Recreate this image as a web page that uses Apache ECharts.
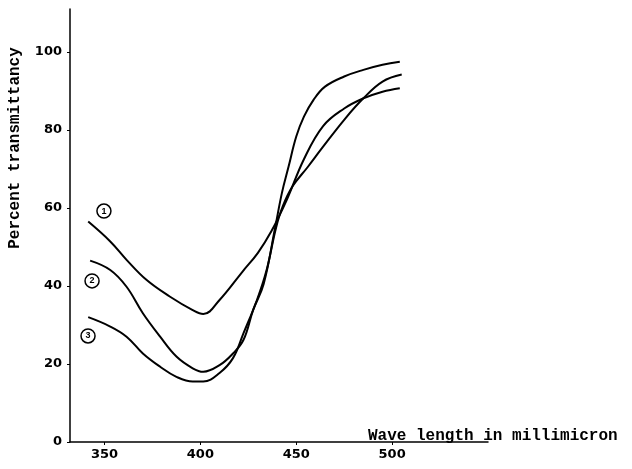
<!DOCTYPE html>
<html>
<head>
<meta charset="utf-8">
<script src="https://cdn.jsdelivr.net/npm/echarts@6/dist/echarts.min.js"></script>
<style>
  html, body { margin: 0; padding: 0; background: #fff; }
  #chart { width: 632px; height: 469px; }
</style>
</head>
<body>
<div id="chart"></div>
<script>
// wave length (millimicron) and percent transmittancy
const wave1 = [341.5, 353, 361.5, 372, 384, 396, 401.5, 410, 422, 430, 437, 445, 454, 464, 475, 485, 495, 504];
const trans1 = [56.5, 51.4, 46.7, 41.5, 37.3, 33.8, 32.8, 36.4, 43.7, 48.5, 54, 62, 72.5, 81, 85.5, 88.1, 89.8, 90.7];

const wave2 = [342.5, 353, 361.5, 370, 379, 387.5, 396, 401.5, 410, 417, 422.5, 427.5, 433, 439, 442.5, 446, 450, 454, 459, 465, 475, 485, 495, 504];
const trans2 = [46.5, 44.1, 39.8, 33, 27, 21.9, 18.9, 18, 19.7, 22.7, 26.2, 33.8, 40.5, 55, 63.8, 70.6, 78.3, 83.4, 87.7, 91.1, 93.7, 95.4, 96.7, 97.5];

const wave3 = [341.5, 353, 361.5, 370, 379, 387.5, 396, 401.5, 410, 417, 422.5, 429.5, 434.5, 439.5, 443, 448, 456, 464, 475, 485, 495, 505];
const trans3 = [32, 29.6, 27, 22.7, 19.3, 16.7, 15.5, 15.5, 17.7, 21.5, 27.9, 36.4, 44, 55, 60.5, 65.5, 70.5, 75.7, 82.6, 88.1, 92.4, 94.2];

// circled curve numbers: [wave, transmittancy]
const markers = [
  { name: "1", coord: [349.7, 59.2] },
  { name: "2", coord: [343.5, 41.3] },
  { name: "3", coord: [341.4, 27.2] },
];

const xTicks = [350, 400, 450, 500];
const yTicks = [0, 20, 40, 60, 80, 100];

const chart = echarts.init(document.getElementById("chart"));

const pairs = (xs, ys) => xs.map((x, i) => [x, ys[i]]);

const makeSeries = (name, data, mark) => ({
  name: name,
  type: "line",
  smooth: 0.4,
  showSymbol: false,
  lineStyle: { color: "#000", width: 2 },
  data: data,
  markPoint: {
    symbol: "circle",
    symbolSize: 14,
    itemStyle: { color: "#fff", borderColor: "#000", borderWidth: 1.5 },
    label: {
      show: true,
      position: "inside",
      formatter: mark.name,
      color: "#000",
      fontSize: 9,
      fontWeight: "bold",
    },
    data: [{ coord: mark.coord }],
  },
});

const option = {
  animation: false,
  backgroundColor: "#fff",
  grid: { left: 70, right: 144, top: 9, bottom: 27 },
  xAxis: {
    type: "value",
    min: 332,
    max: 550,
    axisLine: { lineStyle: { color: "#000", width: 1.5 } },
    axisTick: { show: true, length: 3, customValues: xTicks, lineStyle: { color: "#000" } },
    splitLine: { show: false },
    axisLabel: {
      customValues: xTicks,
      color: "#000",
      fontFamily: "DejaVu Sans",
      fontWeight: "bold",
      fontSize: 13,
      margin: 6,
    },
  },
  yAxis: {
    type: "value",
    min: 0,
    max: 111,
    axisLine: { show: true, lineStyle: { color: "#000", width: 1.5 } },
    axisTick: { show: true, length: 3, customValues: yTicks, lineStyle: { color: "#000" } },
    splitLine: { show: false },
    axisLabel: {
      customValues: yTicks,
      color: "#000",
      fontFamily: "DejaVu Sans",
      fontWeight: "bold",
      fontSize: 13,
      margin: 8,
    },
  },
  graphic: [
    {
      type: "text",
      x: 15,
      y: 148,
      rotation: Math.PI / 2,
      style: {
        text: "Percent transmittancy",
        font: "bold 16px 'Liberation Mono'",
        fill: "#000",
        textAlign: "center",
        textVerticalAlign: "middle",
      },
    },
    {
      type: "text",
      x: 368,
      y: 436,
      style: {
        text: "Wave length in millimicron",
        font: "bold 16px 'Liberation Mono'",
        fill: "#000",
        textAlign: "left",
        textVerticalAlign: "middle",
      },
    },
  ],
  series: [
    makeSeries("1", pairs(wave1, trans1), markers[0]),
    makeSeries("2", pairs(wave2, trans2), markers[1]),
    makeSeries("3", pairs(wave3, trans3), markers[2]),
  ],
};

chart.setOption(option);
</script>
</body>
</html>
